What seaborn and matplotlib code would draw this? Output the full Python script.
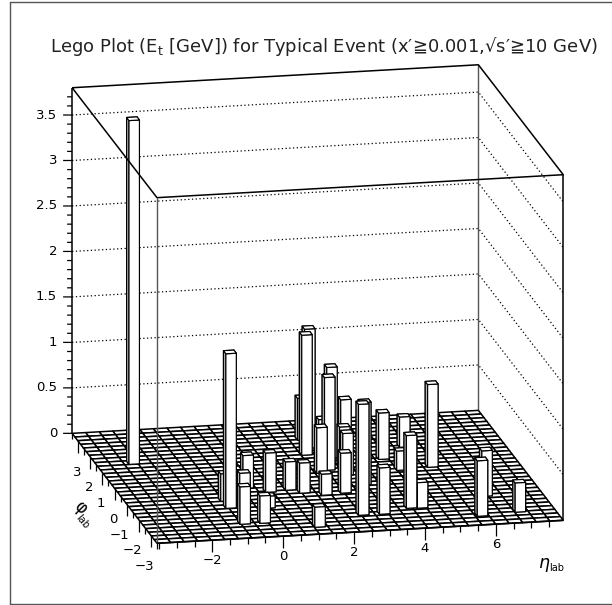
import numpy as np
import matplotlib
matplotlib.use('Agg')
import matplotlib.pyplot as plt
from matplotlib.lines import Line2D
from mpl_toolkits.mplot3d import proj3d
import seaborn as sns

# lego bars: lower bin edges and height in GeV
bar_eta = [-2.67, -0.97, -0.92, -0.51, -0.09, -0.96, -0.36, 0.08, 0.44, 1.02, 1.34, 1.04,
           2.19, 2.41, 2.39, 2.22, 2.48, 2.49, 2.80, 1.89, 2.45, 2.88, 3.00, 3.45,
           2.47, 3.15, 3.06, 4.18, 5.00, 4.44, 3.91, 4.21, 5.34, 5.66, 6.20, 6.77]
bar_phi = [1.41, -1.61, -2.63, -1.41, -0.45, -1.16, -2.64, -1.74, -0.77, -0.71, -0.94, -3.07,
           1.37, 1.78, 2.30, 0.22, 0.82, 0.37, 1.09, -1.14, -1.08, 0.00, 0.62, 1.84,
           -2.49, -0.67, -2.50, 0.85, 1.52, 0.12, -2.23, -2.26, 0.20, -2.96, -1.76, -2.84]
bar_et = [3.78, 1.70, 0.41, 0.34, 0.36, 0.30, 0.30, 0.13, 0.43, 0.31, 0.33, 0.22,
          1.32, 1.31, 0.46, 0.50, 0.48, 1.02, 1.00, 0.23, 0.44, 0.46, 0.42, 0.50,
          1.22, 0.91, 0.51, 0.51, 0.33, 0.21, 0.80, 0.28, 0.91, 0.61, 0.50, 0.32]

eta_lim = (-3.56, 7.90)
phi_lim = (-3.5, 3.5)
z_top = 3.8
n_bins = 30

eta_major = [-2, 0, 2, 4, 6]
eta_minor = [-3.5, -3, -2.5, -1.5, -1, -0.5, 0.5, 1, 1.5, 2.5, 3, 3.5, 4.5, 5, 5.5, 6.5, 7, 7.5]
phi_major = [-3, -2, -1, 0, 1, 2, 3]
phi_minor = [-3.5, -2.5, -1.5, -0.5, 0.5, 1.5, 2.5, 3.5]
z_major = [0, 0.5, 1, 1.5, 2, 2.5, 3, 3.5]
z_labels = ['0', '0.5', '1', '1.5', '2', '2.5', '3', '3.5']

sns.set_theme(style='white')
plt.rcParams['font.family'] = ['DejaVu Sans']
plt.rcParams['text.color'] = 'black'

W, H = 612, 605
fig = plt.figure(figsize=(W / 100, H / 100), dpi=100, facecolor='white')
ax = fig.add_axes([7 / W, -9.7 / H, 605 / W, 1.0], projection='3d',
                  proj_type='ortho', computed_zorder=False)
ax.view_init(elev=15.7, azim=-101.8)
ax.set_box_aspect((1, 1, 0.865), zoom=1.104)
ax.set_axis_off()
ax.patch.set_alpha(0)

e0, e1 = eta_lim
p0, p1 = phi_lim
ax.set_xlim(e0, e1)
ax.set_ylim(p0, p1)
ax.set_zlim(0, z_top)
de = (e1 - e0) / n_bins
dp = (p1 - p0) / n_bins
bar_w = 0.77  # bars are narrower than the cell
z_px = 91.4  # pixels per GeV


def left_of(e, p, px):
    # move a point px pixels to the left on screen
    return e - px * 0.979 * (e1 - e0) / 415, p + px * 0.204 * (p1 - p0) / 415


def line(xs, ys, zs, z=1, color='black', lw=0.9, ls='-'):
    ax.plot(xs, ys, zs, color=color, lw=lw, ls=ls, zorder=z, solid_capstyle='butt')


def label(e, p, zv, s, dx, dy, ha='center'):
    # text at a 3d point, offset in pixels
    xp, yp, _ = proj3d.proj_transform(e, p, zv, ax.get_proj())
    ax.annotate(s, (xp, yp), xytext=(dx * 0.72, dy * 0.72), textcoords='offset points',
                fontsize=9.5, ha=ha, va='center', color='black')


# dotted levels on the two back walls
for zv in z_major[1:]:
    line([e0, e1, e1], [p1, p1, p0], [zv, zv, zv], ls=(0, (1, 2)), lw=0.9)

# back frame lines
line([e1, e1], [p1, p1], [0, z_top], color='#555555', lw=1.0)
line([e0, e0], [p1, p1], [0, z_top], lw=1.1)
line([e1, e1], [p0, p0], [0, z_top], lw=1.1)

# ticks on the z axis
for zv in np.arange(0, 3.8, 0.1):
    major = any(abs(zv - m) < 1e-6 for m in z_major)
    ex, px = left_of(e0, p1, 9 if major else 5)
    line([e0, ex], [p1, px], [zv, zv])
for zv, lab in zip(z_major, z_labels):
    label(e0, p1, zv, lab, -15, 0, ha='right')

# ticks below the floor edges
for v in eta_major:
    line([v, v], [p0, p0], [0, -12 / z_px])
    label(v, p0, 0, str(v).replace('-', '\u2212'), 0, -20)
for v in eta_minor:
    line([v, v], [p0, p0], [0, -6 / z_px])
for v in phi_major:
    line([e0, e0], [v, v], [0, -12 / z_px])
    label(e0, v, 0, str(v).replace('-', '\u2212'), 3, -31, ha='right')
for v in phi_minor:
    line([e0, e0], [v, v], [0, -6 / z_px])

# floor grid
eta_edges = np.linspace(e0, e1, n_bins + 1)
phi_edges = np.linspace(p0, p1, n_bins + 1)
ee, pp = np.meshgrid(eta_edges, phi_edges)
ax.plot_surface(ee, pp, np.zeros_like(ee), color='white', edgecolor='black', linewidth=1.1,
                shade=False, rstride=1, cstride=1, zorder=2)

# bars, far ones first. face order is -z, +z, -y, +y, -x, +x
bar_faces = ['white', 'white', 'white', 'white', '#b8b8b8', 'white']
df_order = np.argsort([-(0.204 * (e - e0) / (e1 - e0) + 0.979 * (p - p0) / (p1 - p0))
                       for e, p in zip(bar_eta, bar_phi)])
for rank, k in enumerate(df_order):
    ax.bar3d(bar_eta[k], bar_phi[k], 0, de * bar_w, dp * 0.85, bar_et[k], color=bar_faces, shade=False,
             edgecolor='black', linewidth=0.85, zorder=3 + rank)

# front frame lines on top of everything
top = 100
line([e0, e0], [p0, p0], [0, z_top], color='#555555', lw=1.0, z=top)
line([e0, e0, e1, e1, e0], [p1, p0, p0, p1, p1], [z_top] * 5, lw=1.1, z=top)
line([e0, e1], [p0, p0], [0, 0], lw=1.2, z=top)

ax.set_xlim(e0, e1)
ax.set_ylim(p0, p1)
ax.set_zlim(0, z_top)


def fig_text(x, y, s, **kw):
    fig.text(x / W, 1 - y / H, s, ha='center', va='center', **kw)


fig_text(324, 47, 'Lego Plot (E$_{\\mathrm{t}}$ [GeV]) for Typical Event (x\u2032\u22670.001,\u221as\u2032\u226710 GeV)',
         fontsize=13, color='#222222')
fig_text(544, 565, '$\\eta$', fontsize=12.5, color='black')
fig_text(557, 568, 'lab', fontsize=7, color='black')
fig_text(80, 507, '\u03c6', fontsize=12, rotation=-45, color='black')
fig_text(82, 522, 'lab', fontsize=7, rotation=-50, color='black')

# outer frame
for xs, ys in [((10, 612), (2, 2)), ((10, 612), (604, 604)), ((10, 10), (2, 604))]:
    fig.add_artist(Line2D([x / W for x in xs], [1 - y / H for y in ys], color='#555555', lw=1.0))

fig.savefig('out.png', dpi=100)
